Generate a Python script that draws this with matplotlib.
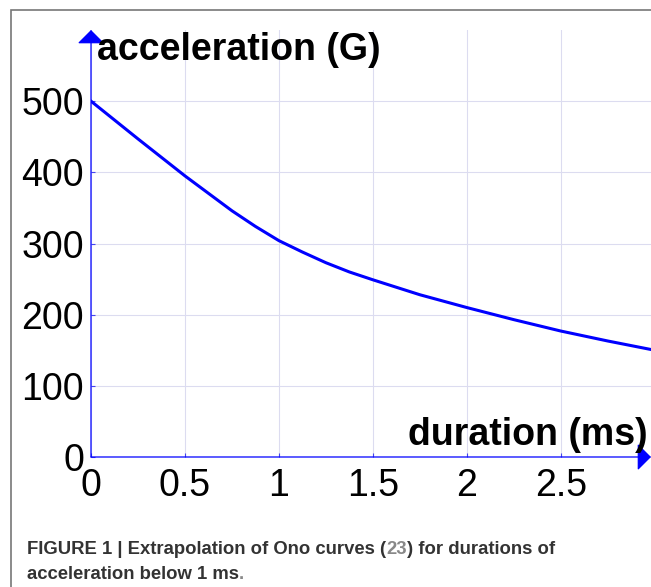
import matplotlib
matplotlib.use("Agg")
import matplotlib.pyplot as plt
from matplotlib.patches import Rectangle

plt.rcParams['font.family'] = ['Liberation Sans', 'DejaVu Sans']

# duration (ms) and acceleration (G)
duration = [0, 0.25, 0.5, 0.75, 0.875, 1.0, 1.125, 1.25, 1.375, 1.5, 1.75, 2.0, 2.25, 2.5, 2.75, 3.0]
accel = [500, 447, 395, 346, 324, 304, 288, 273, 260, 249, 228, 210, 193, 177, 163, 150]

xticks = [0, 0.5, 1, 1.5, 2, 2.5]
xtick_labels = ['0', '0.5', '1', '1.5', '2', '2.5']
yticks = [0, 100, 200, 300, 400, 500]
ytick_labels = ['0', '100', '200', '300', '400', '500']

W, H = 651, 587
fig = plt.figure(figsize=(W / 100, H / 100), dpi=100)

# outer frame of the figure panel
fig.patches.append(Rectangle((11 / W, -0.1), 1.2, (H - 10) / H + 0.1,
                             transform=fig.transFigure, fill=False,
                             edgecolor='#777777', lw=1.2))

ax = fig.add_axes([91 / W, (H - 457) / H, (W - 91) / W, 427 / H])
ax.set_xlim(0, 2.98)
ax.set_ylim(0, 600)
for s in ax.spines.values():
    s.set_visible(False)

ax.set_xticks(xticks)
ax.set_xticklabels(xtick_labels)
ax.set_yticks(yticks)
ax.set_yticklabels(ytick_labels)
ax.tick_params(axis='both', labelsize=27, colors='#4444ee', length=3, width=0.8,
               direction='in', labelcolor='black')
ax.tick_params(axis='x', pad=8)
ax.tick_params(axis='y', pad=5)
ax.grid(True, color='#dcdcf0', lw=0.8)

ax.plot(duration, accel, color='#0000ff', lw=2.2, clip_on=True, zorder=3)

# axis arrows
ax.annotate('', xy=(0, 1.0), xytext=(0, 0), xycoords='axes fraction',
            arrowprops=dict(arrowstyle='-|>,head_width=0.85,head_length=0.85',
                            color='#0000ff', lw=0.9, shrinkA=0, shrinkB=0),
            annotation_clip=False)
ax.annotate('', xy=(1.0, 0), xytext=(0, 0), xycoords='axes fraction',
            arrowprops=dict(arrowstyle='-|>,head_width=0.85,head_length=0.85',
                            color='#0000ff', lw=0.9, shrinkA=0, shrinkB=0),
            annotation_clip=False)

ax.text(97 / W, (H - 60) / H, 'acceleration (G)', transform=fig.transFigure,
        fontsize=27, fontweight='bold', ha='left', va='baseline')
ax.text(648 / W, (H - 445) / H, 'duration (ms)', transform=fig.transFigure,
        fontsize=27, fontweight='bold', ha='right', va='baseline')

# caption with grey reference number
caption1 = [('FIGURE 1 | Extrapolation of Ono curves (', '#333333'),
            ('23', '#888888'),
            (') for durations of', '#333333')]
caption2 = [('acceleration below 1 ms', '#333333'), ('.', '#888888')]
renderer = fig.canvas.get_renderer()
for parts, base in [(caption1, H - 554), (caption2, H - 579)]:
    x = 27
    for txt, col in parts:
        t = fig.text(x / W, base / H, txt, fontsize=13.3, fontweight='bold',
                     color=col, ha='left', va='baseline')
        bb = t.get_window_extent(renderer)
        x = bb.x1

fig.savefig('out.png', dpi=100)
